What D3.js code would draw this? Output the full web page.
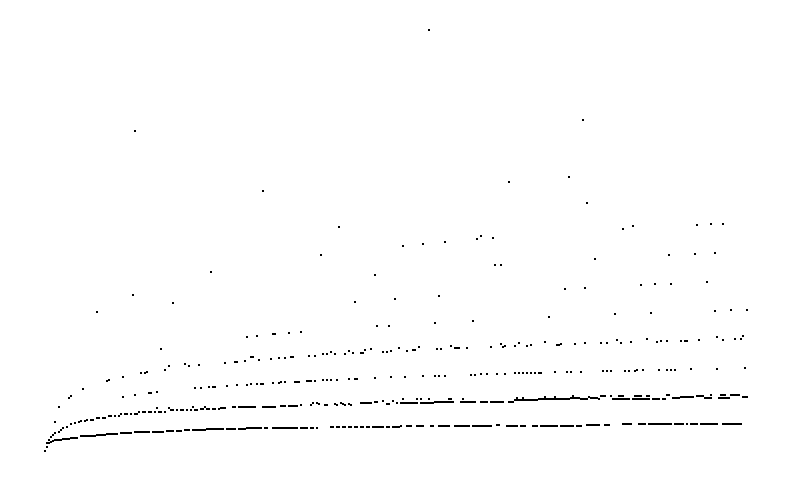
<!DOCTYPE html>
<html>
<head>
<meta charset="utf-8">
<script src="https://cdn.jsdelivr.net/npm/d3@7"></script>
<style>
  html, body { margin: 0; padding: 0; background: #ffffff; }
  svg { display: block; }
</style>
</head>
<body>
<div id="chart"></div>
<script>
// Index range of the sequence (x) and value range (y)
const xDomain = [1, 352];
const yDomain = [0, 105.5];

// Lowest band: [value, [indices]]
const band1 = [
  [0.3,[1]],[1.3,[2]],[2.2,[3]],[2.5,[4]],[2.7,[5]],
  [2.9,[6,7,8,9]],[3.3,[10,11,12,13]],[3.6,[14,15,16,17]],
  [4.0,[19,20,21,22,23,24,25,26]],
  [4.2,[27,28,29,30,31]],[4.5,[32,33,34,35,36,37]],
  [4.7,[39,40,41,42,43,44]],
  [4.9,[46,47,48,49,50,51,52,53]],
  [5.1,[55,56,57,58,59,60]],
  [5.2,[62,63,64,65]],[5.3,[67,68,69]],[5.4,[71,72,73]],
  [5.5,[75,76,77,78,79,80,81]],
  [5.7,[82,83,84,85,86,87,88]],
  [5.8,[89,90,92,93,94,95,96,98,99,100,101]],
  [5.9,[102,103,104,105,106,107,108,109,111,112]],
  [6.0,[115,116,117,118,119,120,121,122,123,124,125,126,127,129,130,131,132]],
  [6.1,[134,135,137]],
  [6.2,[144,145,147,148,150,151,153,154,156,157,159,160,162,163,165,166,167]],
  [6.3,[168,169,170,172,173,175,176,177,178]],
  [6.4,[179,182,183,184,187,188,189,190,194,195,198,199,200,201,202,203]],
  [6.5,[206,207,208,209,210,211,212,213,215,216,217,218,219,220,221,222,223,224]],
  [6.8,[227,228]],
  [6.6,[232,233,234,235,236,237,239,240,241,245,246,247,249,250,251,252,253,254,255,256,257,259,260,261,262,263,264,265,267,268,269]],
  [6.7,[272,273,274,275,276,277,278,281,282,283]],
  [7.0,[290,291,292,293,294,298,299,300,301,303,304,305,306,307,308,309,310,311,312]],
  [6.9,[313,314,316,317,318,319,320,322]],
  [7.05,[324,325,326,327,329,330,331,332,333,334,335,336,337,340,341,342,343,344,345,346,347,348,349]]
];

// Second band: [value, [indices]]
const band2 = [
  [2.3,[2]],[3.0,[3]],[3.7,[4]],[4.25,[5]],[4.75,[6]],[5.1,[8]],[5.5,[9]],
  [5.9,[10]],[6.3,[12]],[6.9,[14]],[7.2,[16]],[7.5,[18]],
  [7.8,[19,21]],[8.0,[22,24,25]],[8.5,[27,28,30,31]],[9.1,[33,34,36,38]],
  [9.6,[39,41,42,44,46,47]],[9.9,[48,50,51,53]],[10.1,[54,56,58,59,61]],
  [10.9,[57,63]],[10.5,[64,65,67,69,70]],[10.6,[72,74,76,77]],
  [11.2,[75,81]],[10.8,[79,80,82,83,85,86,88]],
  [11.0,[89,90,91]],
  [11.2,[95,96,98,99,100,101,102,103,104,105,106]],
  [11.3,[110,111,112,113,114,115,116]],[11.4,[119,120,121]],
  [11.5,[123,124,125,126,127]],
  [11.7,[129,134,141,142,147,151,154]],[12.2,[135,137]],[11.9,[138]],
  [12.0,[146,150,153]],[12.3,[149,159,160,161,162,163,164]],[12.6,[166,167]],
  [12.0,[172,173]],[12.7,[170,175]],[12.2,[177]],
  [12.3,[179,180,181,182,183,184,185,186,187,189,190,191,192,193,194,195]],
  [13.2,[180,187,189,193]],
  [12.6,[196,197,198,199,200,201,202,203,204,205]],[13.3,[203,204,210]],
  [12.5,[209,210,211,212,213,214,215,216,219,220,221,222,224,225,226,227,228,229,230,233,234,235]],
  [13.0,[236,237,238,239,240,241,242,243,244,245,246,247]],[13.6,[237,240]],
  [13.2,[248,249,250,251,252,253,254,255,256,257,258,259,260,261,262,263]],
  [13.5,[264,265,266,267,268]],[13.8,[251,256]],[14.0,[265]],
  [13.2,[269,270,271,272,278]],[13.8,[273]],[13.5,[274,275,276,277]],
  [14.0,[279,280,281,284,288,289,290,296,297,298,299,302,303]],
  [13.3,[285,286,287,288,289,290,291,292,293,295,296,297,298,299,300,301,302,303,305,306,307,308,310,311]],
  [14.2,[312,313,334,339,340,341,344,345,346,347,348]],
  [13.6,[315,316,317,318,331,332,333,334,338,339,340,341,342,343]],
  [13.7,[319,320,321,322,323,324,325]],[13.9,[327,328,329,330]],[13.8,[350,351,352]]
];

// Third band: [index, value]
const band3 = [
  [6,7.6],[40,13.8],[46,14.3],[53,14.8],[54,14.8],[57,15.1],[76,16.1],[79,16.1],
  [83,16.3],[85,16.3],[86,16.3],[92,16.5],[97,16.8],[102,16.8],[104,17.1],[107,17.1],
  [109,17.1],[110,17.1],[115,17.3],[118,17.3],[119,17.6],[121,17.6],[126,17.6],[127,17.6],
  [128,17.6],[132,17.8],[133,17.8],[134,17.8],[136,17.8],[140,18.0],[142,18.0],[144,18.0],
  [147,18.0],[153,18.3],[156,18.3],[157,18.3],[166,18.5],[174,18.8],[181,18.8],[190,19.1],
  [196,19.1],[198,19.1],[201,19.1],[214,19.3],[216,19.3],[219,19.6],[222,19.6],[227,19.6],
  [231,19.6],[236,19.7],[238,19.8],[240,19.8],[242,19.8],[244,19.8],[246,19.8],[248,19.8],
  [249,19.8],[256,20.1],[262,20.1],[264,20.1],[269,20.1],[280,20.3],[282,20.3],[284,20.3],
  [291,20.3],[293,20.3],[296,20.3],[297,20.5],[300,20.5],[308,20.5],[312,20.5],[314,20.5],
  [316,20.5],[324,20.8],[337,20.8],[351,21.1]
];

// Fourth band: [index, value]
const band4 = [
  [8,11.3],[13,13.6],[14,14.0],[20,15.8],[32,17.8],[33,18.0],[40,18.8],[49,19.7],
  [51,19.8],[52,20.1],[61,20.6],[63,21.6],[71,22.1],[73,21.5],[78,21.8],[91,22.3],
  [96,22.5],[97,22.5],[101,22.8],[104,23.8],[105,23.8],[108,23.0],[114,23.3],[118,23.5],
  [121,23.5],[124,23.8],[125,23.8],[133,24.1],[136,24.1],[140,24.4],[142,24.4],[144,25.0],
  [146,24.6],[151,24.6],[153,25.3],[155,24.8],[159,24.8],[160,24.8],[161,25.5],[164,25.8],
  [170,25.1],[172,25.1],[174,25.3],[178,26.0],[182,25.3],[185,25.5],[186,25.5],[188,26.3],
  [197,25.8],[199,25.8],[204,26.6],[206,26.1],[207,26.1],[208,26.1],[212,26.1],[224,26.3],
  [229,27.0],[230,26.3],[231,26.6],[236,26.6],[238,27.3],[242,26.6],[244,26.8],[251,27.5],
  [257,26.8],[258,26.8],[259,27.1],[266,27.1],[271,27.2],[279,27.3],[282,27.3],[287,28.0],
  [289,27.3],[294,27.5],[302,28.3],[307,27.6],[309,27.8],[312,27.8],[319,27.8],[321,27.8],
  [322,27.8],[328,28.0],[337,28.8],[340,28.0],[346,28.3],[349,28.3],[350,29.1]
];

// Higher, sparse values: [index, value]
const upper = [
  [193,105.5],[46,80.3],[270,83.0],[110,65.3],[233,67.5],[263,68.8],[272,62.3],
  [148,56.3],[290,55.8],[295,56.5],[327,56.8],[334,57.0],[340,57.0],
  [180,51.5],[190,52.0],[201,52.5],[217,53.3],[219,54.0],[225,53.5],
  [139,49.3],[226,46.8],[229,46.8],[276,48.3],[313,49.3],[326,49.5],[336,49.8],
  [84,45.0],[166,44.3],[332,42.5],[299,41.8],[306,42.0],[314,42.0],
  [45,39.3],[65,37.3],[156,37.5],[176,38.3],[198,39.0],[261,40.8],[271,41.0],
  [27,35.0],[253,33.8],[286,34.5],[304,34.8],[336,35.3],[344,35.5],[352,35.5],
  [167,31.5],[173,31.5],[196,32.3],[215,32.8],
  [102,28.8],[107,29.0],[115,29.5],[116,29.5],[123,29.8],[129,30.0],[59,25.8]
];

const W = 792, H = 482;
const svg = d3.select("#chart").append("svg")
  .attr("width", W).attr("height", H)
  .style("background", "#ffffff");

const x = d3.scaleLinear().domain(xDomain).range([45, 747]);
const y = d3.scaleLinear().domain(yDomain).range([452, 30]);

const points = [];
[band1, band2].forEach(groups => {
  groups.forEach(([v, ns]) => ns.forEach(n => points.push({ n, v })));
});
[band3, band4, upper].forEach(list => {
  list.forEach(([n, v]) => points.push({ n, v }));
});

svg.append("g")
  .selectAll("rect")
  .data(points)
  .join("rect")
  .attr("x", d => x(d.n) - 1)
  .attr("y", d => y(d.v) - 1)
  .attr("width", 2)
  .attr("height", 2)
  .attr("fill", "#000")
  .attr("shape-rendering", "crispEdges");
</script>
</body>
</html>
